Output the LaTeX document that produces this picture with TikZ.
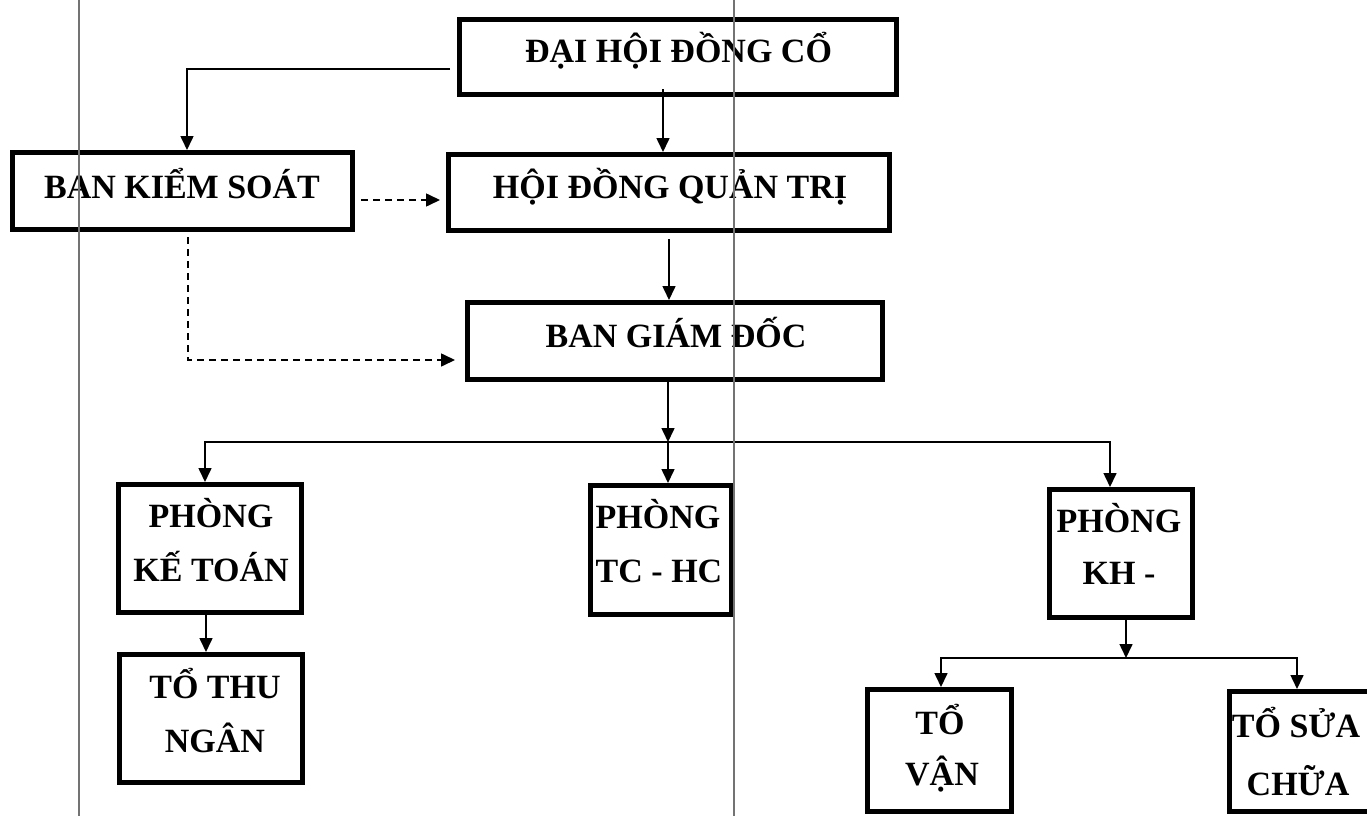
\documentclass[tikz,border=0pt]{standalone}
\usepackage{fontspec}
\setmainfont{Liberation Serif}
\usetikzlibrary{arrows.meta}
\begin{document}
\begin{tikzpicture}[x=1pt,y=-1pt,
  box/.style={draw, line width=5pt, inner sep=0pt},
  lbl/.style={anchor=base, inner sep=0pt, font=\fontsize{34}{40}\selectfont\bfseries},
  conn/.style={line width=1.6pt, -{Triangle[length=14pt,width=13pt]}},
  dconn/.style={conn, dash pattern=on 7pt off 5pt},
  scanline/.style={draw=black!55, line width=2pt}]
\useasboundingbox (0,0) rectangle (1367,816);
\clip (0,0) rectangle (1367,816);
\fill[white] (0,0) rectangle (1367,816);
% boxes
\node[box, minimum width=437pt, minimum height=75pt] (dhdc) at (678,57) {};
\node[box, minimum width=441pt, minimum height=76pt] (hdqt) at (669,192.5) {};
\node[box, minimum width=415pt, minimum height=77pt] (bgd) at (675,341) {};
\node[box, minimum width=340pt, minimum height=77pt] (bks) at (182.5,191) {};
\node[box, minimum width=183pt, minimum height=128pt] (pkt) at (210,548.5) {};
\node[box, minimum width=183pt, minimum height=128pt] (ttn) at (211,718.5) {};
\node[box, minimum width=141pt, minimum height=129pt] (ptc) at (661,550) {};
\node[box, minimum width=143pt, minimum height=128pt] (pkh) at (1121,553.5) {};
\node[box, minimum width=144pt, minimum height=122pt] (tvan) at (939.5,750.5) {};
\node[box, minimum width=200pt, minimum height=120pt] (tsc) at (1329.5,751.5) {};
% texts
\node[lbl] (t1) at (678.5,63) {ĐẠI HỘI ĐỒNG CỔ};
\node[lbl] (t2) at (670,198) {HỘI ĐỒNG QUẢN TRỊ};
\node[lbl] (t3) at (676,347) {BAN GIÁM ĐỐC};
\node[lbl] (t4) at (182,198) {BAN KIỂM SOÁT};
\node[lbl] (t5a) at (211,527) {PHÒNG};
\node[lbl] (t5b) at (211,581) {KẾ TOÁN};
\node[lbl] (t6a) at (215,698) {TỔ THU};
\node[lbl] (t6b) at (215,752) {NGÂN};
\node[lbl] (t7a) at (658,528) {PHÒNG};
\node[lbl] (t7b) at (659,582) {TC - HC};
\node[lbl] (t8a) at (1119,532) {PHÒNG};
\node[lbl] (t8b) at (1119,584) {KH -};
\node[lbl] (t9a) at (940,734) {TỔ};
\node[lbl] (t9b) at (942,785) {VẬN};
\node[lbl] (t10a) at (1296,737) {TỔ SỬA};
\node[lbl] (t10b) at (1298,795) {CHỮA};
% connectors
\draw[conn] ([xshift=-7pt,yshift=-12pt]dhdc.west) -| ([xshift=4.5pt]bks.north);
\draw[conn] ([xshift=-15pt,yshift=8pt]dhdc.south) -- ([xshift=-15pt]dhdc.south |- hdqt.north);
\draw[dconn] ([xshift=6pt,yshift=-9pt]bks.east) -- ([xshift=-6pt,yshift=-9pt]bks.east -| hdqt.west);
\draw[conn] ([yshift=-6pt]hdqt.south) -- (hdqt.south |- bgd.north);
\draw[dconn] ([xshift=5.5pt,yshift=-5pt]bks.south) |- ([yshift=-19pt,xshift=-10pt]bgd.west);
\coordinate (br) at ([xshift=-7pt,yshift=-60pt]bgd.south);
\draw[conn] ([xshift=-7pt]bgd.south) -- (br);
\draw[line width=1.6pt] ([xshift=-5pt]pkt.north |- br) -- ([xshift=-11pt]pkh.north |- br);
\draw[conn] (br) -| ([xshift=-5pt]pkt.north);
\draw[conn] (br) -- (br |- ptc.north);
\draw[conn] (br) -| ([xshift=-11pt]pkh.north);
\draw[conn] ([xshift=-4pt]pkt.south) -- ([xshift=-4pt]pkt.south |- ttn.north);
\coordinate (br2) at ([xshift=5pt,yshift=-38pt]pkh.south);
\draw[conn] ([xshift=5pt]pkh.south) -- (br2);
\draw[conn] (br2) -| ([xshift=1.5pt]tvan.north);
\draw[conn] (br2) -| ([xshift=-32.5pt]tsc.north);
% scan lines
\draw[scanline] (79,0) -- (79,816);
\draw[scanline] (734,0) -- (734,816);
\end{tikzpicture}
\end{document}
